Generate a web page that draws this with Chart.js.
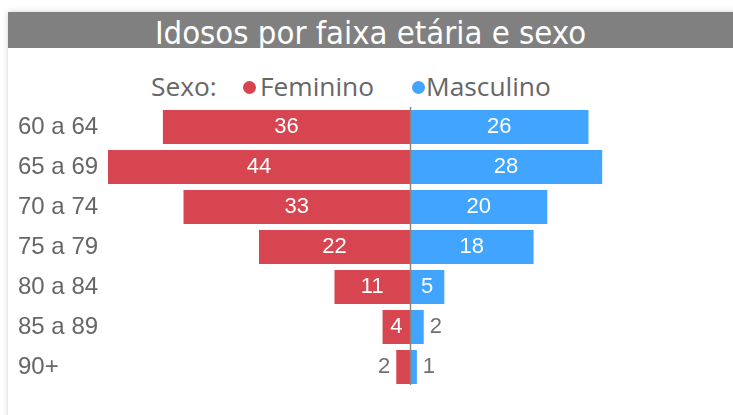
<!DOCTYPE html>
<html><head><meta charset="utf-8">
<script src="https://cdn.jsdelivr.net/npm/chart.js@4.4.1/dist/chart.umd.min.js"></script>
<style>
html,body{margin:0;padding:0;background:#fff;width:733px;height:415px;overflow:hidden;}
#card{position:absolute;left:8px;top:12px;width:740px;height:420px;box-shadow:0 0 6px rgba(0,0,0,0.18);background:#fff;}
#title{position:absolute;left:8px;top:12px;width:725px;height:36px;background:#808080;color:#fff;overflow:hidden;
 font-family:"DejaVu Sans Condensed","Liberation Sans Narrow",sans-serif;font-size:32.6px;line-height:43px;text-align:center;}
.lg{position:absolute;top:68px;font-family:"Open Sans",sans-serif;font-size:26.3px;color:#666;white-space:nowrap;line-height:36px;}
.dot{position:absolute;width:13px;height:13px;border-radius:50%;top:81px;}
#c{position:absolute;left:0;top:0;}
</style></head>
<body>
<div id="card"></div>
<div id="title">Idosos por faixa etária e sexo</div>
<span class="lg" style="left:151px">Sexo:</span>
<span class="dot" style="left:243px;background:#D64550"></span>
<span class="lg" style="left:260px">Feminino</span>
<span class="dot" style="left:412px;background:#41A4FF"></span>
<span class="lg" style="left:426px">Masculino</span>
<canvas id="c" width="733" height="415"></canvas>
<script>
const categories = ["60 a 64","65 a 69","70 a 74","75 a 79","80 a 84","85 a 89","90+"];
const feminino = [36,44,33,22,11,4,2];
const masculino = [26,28,20,18,5,2,1];
const colorF = "#D64550";
const colorM = "#41A4FF";

const labelPlugin = {
  id:'barLabels',
  afterDatasetsDraw(chart){
    const ctx = chart.ctx;
    ctx.save();
    ctx.font = '22px "Liberation Sans", Arial, sans-serif';
    ctx.textBaseline = 'middle';
    chart.data.datasets.forEach((ds,di)=>{
      const meta = chart.getDatasetMeta(di);
      meta.data.forEach((bar,i)=>{
        const raw = ds.raw[i];
        const txt = String(raw);
        const tw = ctx.measureText(txt).width;
        const w = Math.abs(bar.x - bar.base);
        if (w >= tw + 8){
          ctx.fillStyle = '#fff';
          ctx.textAlign = 'center';
          ctx.fillText(txt,(bar.x+bar.base)/2,bar.y);
        } else {
          ctx.fillStyle = '#707070';
          if (bar.x < bar.base){ ctx.textAlign='right'; ctx.fillText(txt,bar.x-6,bar.y); }
          else { ctx.textAlign='left'; ctx.fillText(txt,bar.x+6,bar.y); }
        }
      });
    });
    const xs = chart.scales.x;
    const x0 = Math.round(xs.getPixelForValue(0))+0.5;
    ctx.strokeStyle = '#888';
    ctx.lineWidth = 1.5;
    ctx.beginPath();
    ctx.moveTo(x0, chart.chartArea.top);
    ctx.lineTo(x0, chart.chartArea.bottom-2);
    ctx.stroke();
    ctx.restore();
  }
};

new Chart(document.getElementById('c'),{
  type:'bar',
  data:{
    labels:categories,
    datasets:[
      {label:'Feminino',data:feminino.map(v=>-v),raw:feminino,backgroundColor:colorF,barPercentage:0.85,categoryPercentage:1},
      {label:'Masculino',data:masculino,raw:masculino,backgroundColor:colorM,barPercentage:0.85,categoryPercentage:1}
    ]
  },
  options:{
    indexAxis:'y',
    responsive:false,
    animation:false,
    layout:{padding:{left:18,right:21,top:107,bottom:28}},
    plugins:{legend:{display:false},tooltip:{enabled:false}},
    scales:{
      x:{display:false,stacked:true,min:-44,max:44},
      y:{stacked:true,grid:{display:false},border:{display:false},
         ticks:{crossAlign:'far',color:'#666',font:{family:'"Liberation Sans", Arial, sans-serif',size:24},padding:0},
         afterFit(s){s.width=90;}}
    }
  },
  plugins:[labelPlugin]
});
</script>
</body></html>
